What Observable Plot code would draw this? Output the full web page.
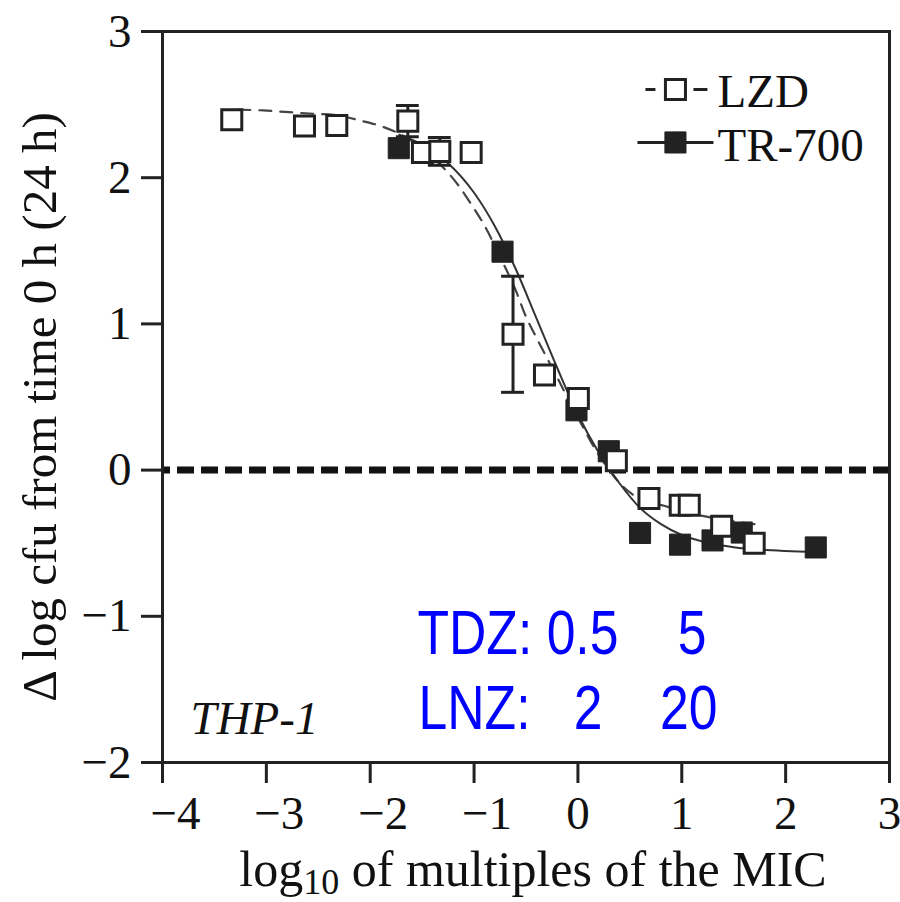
<!DOCTYPE html>
<html>
<head>
<meta charset="utf-8">
<script src="https://cdn.jsdelivr.net/npm/d3@7"></script>
<script src="https://cdn.jsdelivr.net/npm/@observablehq/plot@0.6"></script>
<style>
  html, body { margin: 0; padding: 0; background: white; }
  #chart svg { display: block; }
</style>
</head>
<body>
<div id="chart"></div>
<script>
// ---- data ----
const xTicks = [-4, -3, -2, -1, 0, 1, 2, 3];
const yTicks = [-2, -1, 0, 1, 2, 3];

// LZD (open squares) observed points
const lzdX = [-3.333, -2.633, -2.322, -1.638, -1.497, -1.33, -1.028, -0.625, -0.322, 0.004, 0.37, 0.684, 0.985, 1.072, 1.384, 1.697];
const lzdY = [2.396, 2.354, 2.357, 2.387, 2.172, 2.18, 2.172, 0.929, 0.65, 0.489, 0.064, -0.195, -0.24, -0.24, -0.384, -0.50];
// error bars (LZD)
const errX = [-1.638, -1.33, -0.625];
const errY = [2.387, 2.18, 0.929];
const errE = [0.107, 0.095, 0.397];

// TR-700 (filled squares) observed points
const trX = [-1.725, -0.726, -0.014, 0.297, 0.598, 0.983, 1.296, 1.577, 2.29];
const trY = [2.202, 1.494, 0.409, 0.129, -0.43, -0.51, -0.481, -0.427, -0.529];

// fitted curves
const lzdCurveX = [-3.27, -3.03, -2.78, -2.54, -2.35, -2.09, -1.87, -1.64, -1.40, -1.15, -1.02, -0.90, -0.75, -0.585, -0.505, -0.41, -0.31, -0.20, -0.09, 0.025, 0.12, 0.26, 0.41, 0.57, 0.83, 1.05, 1.37, 1.70];
const lzdCurveY = [2.465, 2.46, 2.448, 2.437, 2.43, 2.39, 2.346, 2.27, 2.14, 1.947, 1.81, 1.673, 1.46, 1.205, 1.057, 0.92, 0.783, 0.635, 0.48, 0.326, 0.20, 0.04, -0.095, -0.187, -0.244, -0.29, -0.335, -0.37];
const trCurveX = [-1.72, -1.5, -1.25, -1.0, -0.8, -0.6, -0.4, -0.2, 0.0, 0.2, 0.4, 0.6, 0.8, 1.0, 1.25, 1.5, 1.75, 2.0, 2.3];
const trCurveY = [2.294, 2.226, 2.099, 1.897, 1.668, 1.377, 1.040, 0.70, 0.38, 0.12, -0.09, -0.26, -0.37, -0.444, -0.497, -0.527, -0.544, -0.553, -0.559];

const seriesNames = ["LZD", "TR-700"];
const xLabel = "log10 of multiples of the MIC";
const yLabel = "\u0394 log cfu from time 0 h (24 h)";
const cellLabel = "THP-1";
const doseTexts = ["TDZ: 0.5", "5", "LNZ:", "2", "20"];

// ---- tables built from the arrays ----
const lzd = lzdX.map((x, i) => ({x, y: lzdY[i]}));
const tr = trX.map((x, i) => ({x, y: trY[i]}));
const err = errX.map((x, i) => ({x, y: errY[i], e: errE[i]}));
const lzdCurve = lzdCurveX.map((x, i) => ({x, y: lzdCurveY[i]}));
const trCurve = trCurveX.map((x, i) => ({x, y: trCurveY[i]}));

const INK = "#222";
const BLUE = "#0000ff";
const SANS = "'Liberation Sans', Arial, sans-serif";
const SERIF = "'Liberation Serif', 'Times New Roman', serif";
const capHalf = 0.11;

// annotation anchors (data units)
const legendItems = [
  {name: seriesNames[0], y: 2.604, ty: 2.487, x1: 0.650, x2: 1.247},
  {name: seriesNames[1], y: 2.241, ty: 2.111, x1: 0.573, x2: 1.305}
];
const doseStart = [
  {t: doseTexts[0], x: -1.545, y: -1.257},
  {t: doseTexts[2], x: -1.535, y: -1.770}
];
const doseEnd = [
  {t: doseTexts[1], x: 1.238, y: -1.257},
  {t: doseTexts[3], x: 0.236, y: -1.770},
  {t: doseTexts[4], x: 1.344, y: -1.770}
];

const fmt = d => (d < 0 ? "\u2212" : "") + Math.abs(d);

const chart = Plot.plot({
  width: 900,
  height: 902,
  marginLeft: 162,
  marginRight: 11,
  marginTop: 31,
  marginBottom: 140,
  x: {domain: [-4, 3]},
  y: {domain: [-2, 3]},
  style: {fontFamily: SERIF, fontSize: "47px", color: INK, background: "white"},
  marks: [
    Plot.ruleY([0], {stroke: "#111", strokeWidth: 7, strokeDasharray: "17,7", strokeDashoffset: 9}),
    Plot.line(lzdCurve, {x: "x", y: "y", curve: "monotone-x", stroke: "#444", strokeWidth: 2.2, strokeDasharray: "12,9"}),
    Plot.line(trCurve, {x: "x", y: "y", curve: "monotone-x", stroke: "#333", strokeWidth: 2}),
    // error bars
    Plot.ruleX(err, {x: "x", y1: d => d.y - d.e, y2: d => d.y + d.e, stroke: INK, strokeWidth: 3}),
    Plot.ruleY(err, {y: d => d.y + d.e, x1: d => d.x - capHalf, x2: d => d.x + capHalf, stroke: INK, strokeWidth: 3}),
    Plot.ruleY(err, {y: d => d.y - d.e, x1: d => d.x - capHalf, x2: d => d.x + capHalf, stroke: INK, strokeWidth: 3}),
    // points
    Plot.dot(tr, {x: "x", y: "y", symbol: "square", r: 11.9, fill: INK, stroke: INK, strokeWidth: 1}),
    Plot.dot(lzd, {x: "x", y: "y", symbol: "square", r: 11.3, fill: "white", stroke: INK, strokeWidth: 3}),
    // legend
    Plot.link([legendItems[0]], {x1: "x1", x2: "x2", y1: "y", y2: "y", stroke: INK, strokeWidth: 3, strokeDasharray: "10,38,14,1000"}),
    Plot.link([legendItems[1]], {x1: "x1", x2: "x2", y1: "y", y2: "y", stroke: INK, strokeWidth: 3}),
    Plot.dot([legendItems[1]], {x: 0.939, y: "y", symbol: "square", r: 11.9, fill: INK, stroke: INK, strokeWidth: 1}),
    Plot.dot([legendItems[0]], {x: 0.939, y: "y", symbol: "square", r: 11.3, fill: "white", stroke: INK, strokeWidth: 3}),
    Plot.text(legendItems, {x: 1.344, y: "ty", text: "name", textAnchor: "start", lineAnchor: "bottom", fontSize: 47, fill: "#111"}),
    // annotations
    Plot.text([cellLabel], {x: -3.73, y: -1.803, text: d => d, textAnchor: "start", lineAnchor: "bottom", fontSize: 47, fontStyle: "italic", fill: "#111"}),
    Plot.text(doseStart, {x: "x", y: "y", text: "t", textAnchor: "start", lineAnchor: "bottom", fontSize: 63, fontFamily: SANS, fill: BLUE}),
    Plot.text(doseEnd, {x: "x", y: "y", text: "t", textAnchor: "end", lineAnchor: "bottom", fontSize: 63, fontFamily: SANS, fill: BLUE}),
    // frame & axes
    Plot.frame({stroke: INK, strokeWidth: 3}),
    Plot.axisX({ticks: xTicks, tickSize: 21, strokeWidth: 3, stroke: INK, tickFormat: () => "", label: null}),
    Plot.axisY({ticks: yTicks, tickSize: 21, tickPadding: 10, strokeWidth: 3, stroke: INK, fill: "#111", fontSize: 47, label: null, tickFormat: fmt}),
    Plot.text(xTicks.filter(d => d < 0), {x: d => d, text: fmt, frameAnchor: "bottom", dy: 66, dx: 13, lineAnchor: "bottom", textAnchor: "middle", fontSize: 47, fill: "#111"}),
    Plot.text(xTicks.filter(d => d >= 0), {x: d => d, text: fmt, frameAnchor: "bottom", dy: 66, lineAnchor: "bottom", textAnchor: "middle", fontSize: 47, fill: "#111"}),
    Plot.text([xLabel], {text: d => d, frameAnchor: "bottom", dy: 123, dx: 7, lineAnchor: "bottom", textAnchor: "middle", fontSize: 50, fill: "#111"}),
    Plot.text([yLabel], {text: d => d, frameAnchor: "left", rotate: -90, dx: -122, dy: 10, lineAnchor: "middle", textAnchor: "middle", fontSize: 49, fill: "#111"})
  ]
});

document.getElementById("chart").appendChild(chart);

// render "10" in the x label as a subscript
d3.select(chart).selectAll("text").each(function () {
  if (this.textContent === xLabel) {
    const t = d3.select(this);
    t.text(null);
    t.append("tspan").text("log");
    t.append("tspan").attr("font-size", "0.72em").attr("dy", "0.24em").text("10");
    t.append("tspan").attr("dy", "-0.17em").text(" of multiples of the MIC");
  }
});

// narrow (condensed) look for the blue dose annotations
d3.select(chart).selectAll("text").each(function () {
  if (this.getAttribute("fill") === BLUE || (this.parentNode && this.parentNode.getAttribute && this.parentNode.getAttribute("fill") === BLUE)) {
    const L = this.getComputedTextLength();
    if (L > 0) {
      this.setAttribute("textLength", (L * 0.82).toFixed(1));
      this.setAttribute("lengthAdjust", "spacingAndGlyphs");
    }
  }
});
</script>
</body>
</html>
